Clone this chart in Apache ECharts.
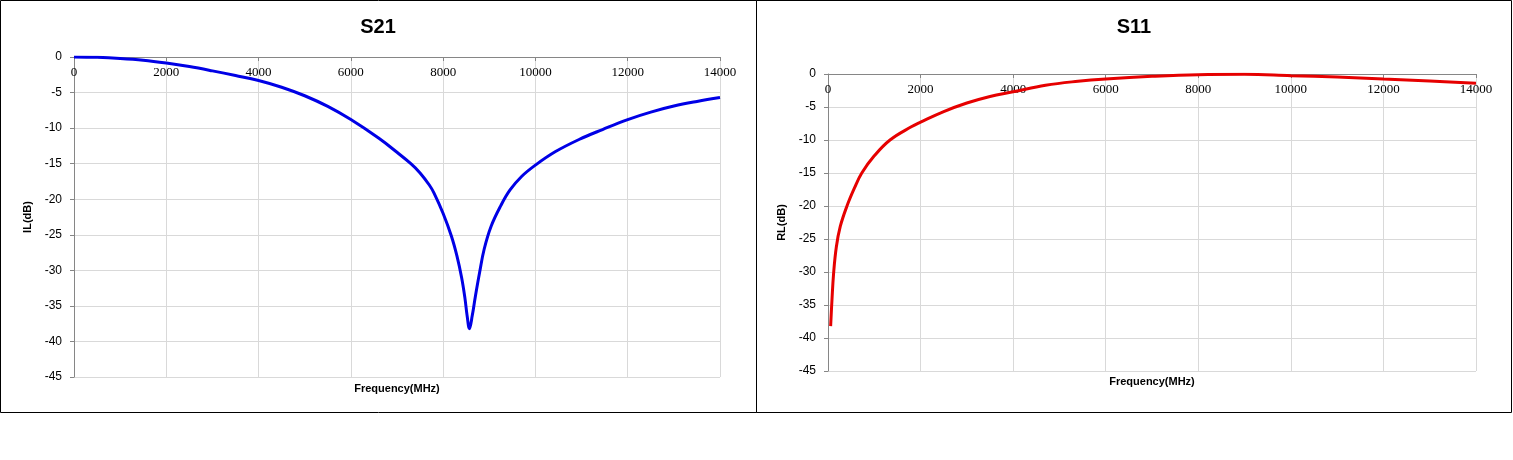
<!DOCTYPE html>
<html>
<head>
<meta charset="utf-8">
<script src="https://cdn.jsdelivr.net/npm/echarts@6/dist/echarts.min.js"></script>
<style>
  html, body { margin: 0; padding: 0; background: #fff; }
  #chart { width: 1513px; height: 460px; }
</style>
</head>
<body>
<div id="chart"></div>
<script>
// S21 insertion loss
const s21Freq = [0, 500, 1000, 1500, 2000, 2500, 3000, 3500, 4000, 4500, 5000, 5500, 6000, 6600, 7000,
    7300, 7500, 7700, 7800, 8000, 8180, 8300, 8400, 8470, 8520, 8570, 8630, 8700, 8790, 8890, 9040,
    9250, 9450, 9700, 10000, 10436, 10945, 11455, 12000, 12500, 13000, 13500, 14000];
const s21IL = [0, -0.05, -0.2, -0.45, -0.85, -1.35, -1.95, -2.6, -3.3, -4.25, -5.45, -6.95, -8.8, -11.4, -13.4,
    -15.0, -16.3, -18.0, -19.1, -22.0, -25.2, -28.0, -31.0, -33.8, -36.4, -38.2, -36.4, -33.6, -30.3, -27.0, -23.8,
    -20.9, -18.7, -16.8, -15.2, -13.3, -11.6, -10.2, -8.8, -7.75, -6.9, -6.25, -5.7];

// S11 return loss
const s11Freq = [57, 86, 121, 180, 265, 410, 570, 730, 1000, 1340, 1800, 2000, 2500, 3000, 3500, 4000,
    4700, 5400, 6000, 7000, 8000, 9000, 10000, 11000, 12000, 13000, 14000];
const s11RL = [-38.2, -34.2, -30.2, -26.2, -23.1, -20.0, -17.3, -15.0, -12.4, -10.0, -8.0, -7.3, -5.7, -4.4, -3.4, -2.7,
    -1.7, -1.1, -0.75, -0.35, -0.1, -0.05, -0.25, -0.45, -0.75, -1.05, -1.4];

const titles = ['S21', 'S11'];
const yNames = ['IL(dB)', 'RL(dB)'];
const xName = 'Frequency(MHz)';

const chart = echarts.init(document.getElementById('chart'));

const sansFont = '"Liberation Sans", Arial, sans-serif';
const serifFont = '"Liberation Serif", "Times New Roman", serif';

const grids = [
    { left: 74, top: 57, width: 646, height: 320 },
    { left: 828, top: 74, width: 648, height: 297 }
];

function makeX(i) {
    return {
        type: 'value',
        gridIndex: i,
        position: 'top',
        min: 0,
        max: 14000,
        interval: 2000,
        axisLine: { show: true, onZero: false, lineStyle: { color: '#868686', width: 1 } },
        axisTick: { show: true, inside: true, length: 4, lineStyle: { color: '#868686' } },
        axisLabel: {
            inside: true,
            margin: 9,
            color: '#000',
            fontFamily: serifFont,
            fontSize: 13,
            formatter: v => String(v)
        },
        splitLine: { show: true, lineStyle: { color: '#d9d9d9', width: 1 } }
    };
}

function makeY(i) {
    return {
        type: 'value',
        gridIndex: i,
        min: -45,
        max: 0,
        interval: 5,
        name: yNames[i],
        nameLocation: 'middle',
        nameRotate: 90,
        nameGap: 41,
        nameTextStyle: { fontFamily: sansFont, fontWeight: 'bold', fontSize: 11, color: '#000' },
        axisLine: { show: true, lineStyle: { color: '#868686', width: 1 } },
        axisTick: { show: true, length: 4, lineStyle: { color: '#868686' } },
        axisLabel: { margin: 12, color: '#000', fontFamily: sansFont, fontSize: 12 },
        splitLine: { show: true, lineStyle: { color: '#d9d9d9', width: 1 } }
    };
}

let option = {
    backgroundColor: '#fff',
    animation: false,
    grid: grids,
    xAxis: [makeX(0), makeX(1)],
    yAxis: [makeY(0), makeY(1)],
    graphic: [
        // frames round each chart
        { type: 'rect', shape: { x: 0.5, y: 0.5, width: 756, height: 412 }, style: { fill: 'none', stroke: '#000', lineWidth: 1 } },
        { type: 'rect', shape: { x: 756.5, y: 0.5, width: 755, height: 412 }, style: { fill: 'none', stroke: '#000', lineWidth: 1 } },
        {
            type: 'text', x: 378, y: 27,
            style: { text: titles[0], textAlign: 'center', textVerticalAlign: 'middle', fontFamily: sansFont, fontWeight: 'bold', fontSize: 20, fill: '#000' }
        },
        {
            type: 'text', x: 1134, y: 27,
            style: { text: titles[1], textAlign: 'center', textVerticalAlign: 'middle', fontFamily: sansFont, fontWeight: 'bold', fontSize: 20, fill: '#000' }
        },
        {
            type: 'text', x: 397, y: 389,
            style: { text: xName, textAlign: 'center', textVerticalAlign: 'middle', fontFamily: sansFont, fontWeight: 'bold', fontSize: 11, fill: '#000' }
        },
        {
            type: 'text', x: 1152, y: 382,
            style: { text: xName, textAlign: 'center', textVerticalAlign: 'middle', fontFamily: sansFont, fontWeight: 'bold', fontSize: 11, fill: '#000' }
        }
    ],
    series: [
        {
            name: 'S21',
            type: 'line',
            xAxisIndex: 0,
            yAxisIndex: 0,
            data: s21Freq.map((f, i) => [f, s21IL[i]]),
            smooth: 0.4,
            showSymbol: false,
            lineStyle: { color: '#0000e6', width: 3 }
        },
        {
            name: 'S11',
            type: 'line',
            xAxisIndex: 1,
            yAxisIndex: 1,
            data: s11Freq.map((f, i) => [f, s11RL[i]]),
            smooth: 0.4,
            showSymbol: false,
            lineStyle: { color: '#e60000', width: 3 }
        }
    ]
};

chart.setOption(option);
</script>
</body>
</html>
